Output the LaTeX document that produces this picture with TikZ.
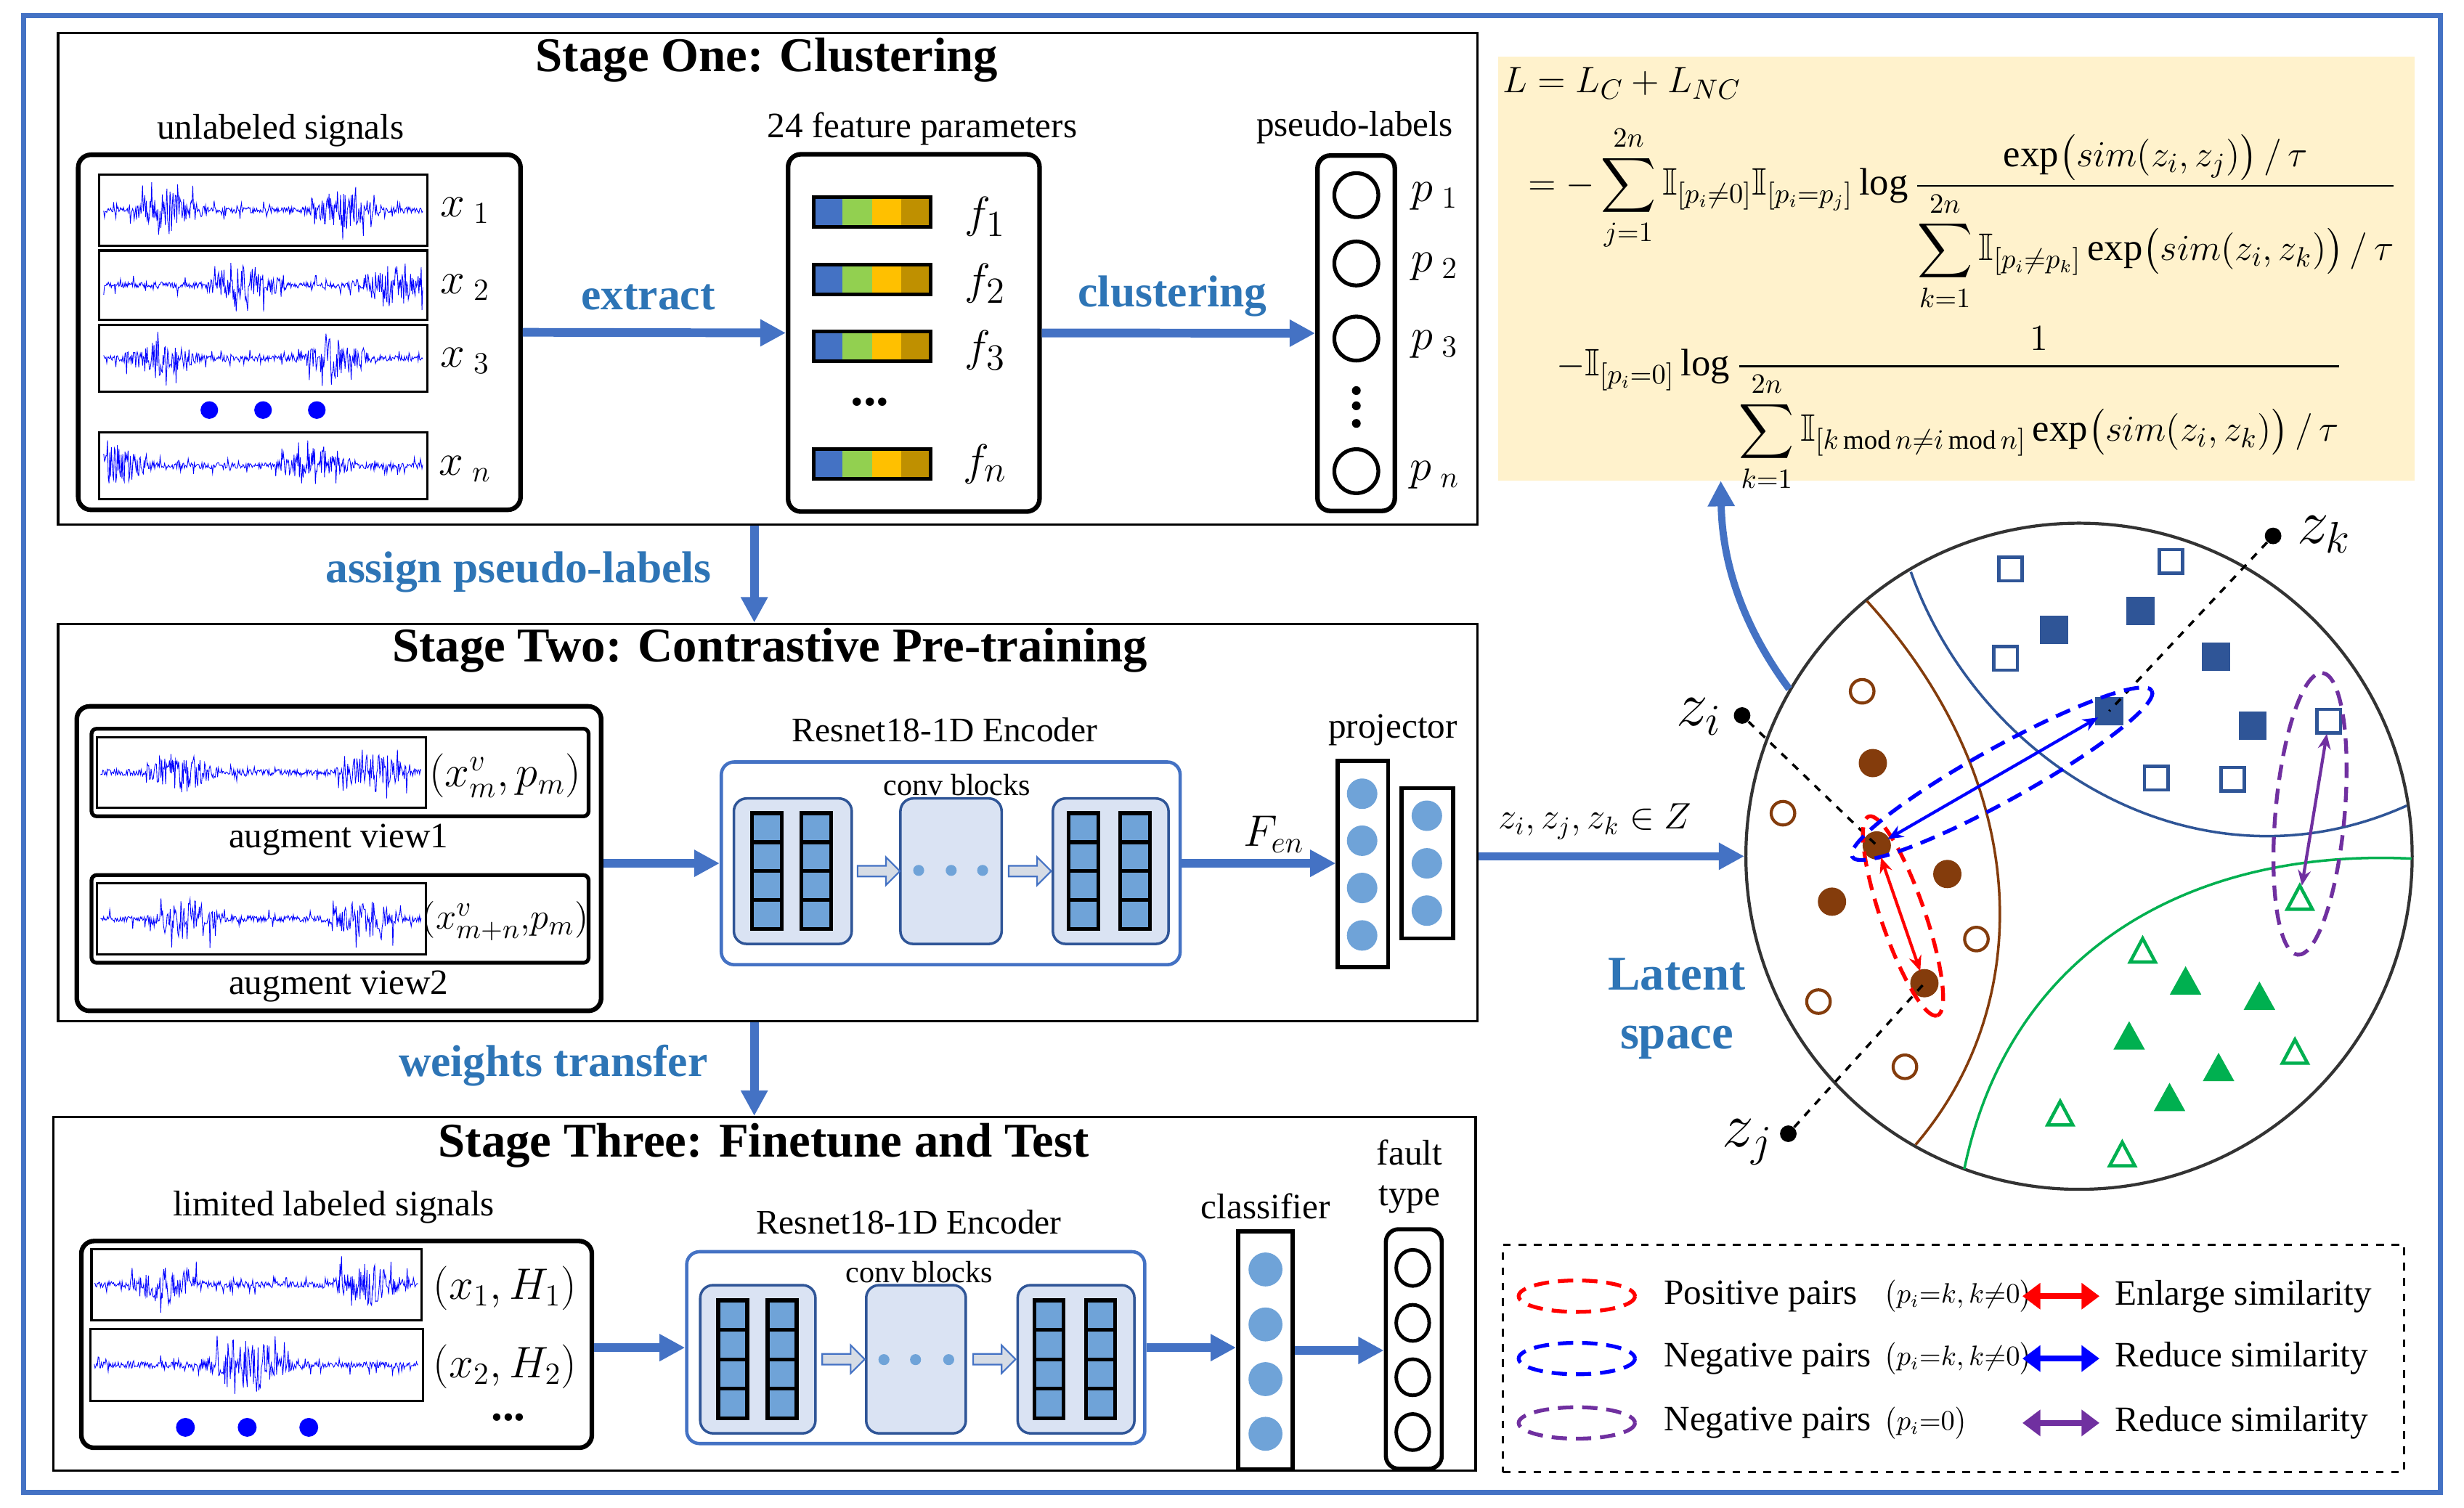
\documentclass[tikz,border=0pt]{standalone}
\usepackage{amsmath,amssymb}
\usepackage{fontspec}
\setmainfont{Liberation Serif}
\usetikzlibrary{arrows.meta,shapes.arrows,calc}

\definecolor{arrowblue}{HTML}{4472C4}
\definecolor{textblue}{HTML}{2E75B6}
\definecolor{navy}{HTML}{2F5597}
\definecolor{lightblock}{HTML}{DAE3F3}
\definecolor{cellblue}{HTML}{6FA3D8}
\definecolor{formulabg}{HTML}{FFF2CC}
\definecolor{brownc}{HTML}{843C0C}
\definecolor{greenc}{HTML}{00B050}
\definecolor{purplec}{HTML}{7030A0}
\definecolor{hollowfill}{HTML}{D6DCE5}
\definecolor{fb1}{HTML}{4472C4}
\definecolor{fb2}{HTML}{92D050}
\definecolor{fb3}{HTML}{FFC000}
\definecolor{fb4}{HTML}{BF9000}

\newcommand{\ulen}{0.02164cm}
% noisy signal: x0, x1, y, half height, burst 1, burst 2
\newcommand{\wave}[6]{%
  \draw[wave_style] plot[samples=420, domain=#1:#2, variable=\t]
    (\t, {#3 + #4*rand*min(0.95,(0.1 + 0.6*max(0,1-abs((\t-#1)/(#2-#1)-#5)/0.13)
      + 0.6*max(0,1-abs((\t-#1)/(#2-#1)-#6)/0.13))*(1+2.2*(rnd>0.86)))});}
\newcommand{\cells}[4]{%
  \foreach \r in {0,1,2,3} \draw[cell_style] (#1,#2+\r*#4) rectangle ++(#3,#4);}
\newcommand{\fbar}[2]{%
  \foreach \c [count=\i from 0] in {fb1,fb2,fb3,fb4} \fill[\c] (#1+\i*18.6,#2-9.5) rectangle ++(18.6,19);
  \draw[line width=1.4pt] (#1,#2-9.5) rectangle ++(74.4,19);}

\begin{document}
\begin{tikzpicture}[x=0.02164cm, y=-0.02164cm,
    stage_style/.style={draw=black, line width=0.9pt, inner sep=0},
    group_style/.style={draw=black, line width=1.8pt, rounded corners=5pt, inner sep=0},
    sig_style/.style={draw=black, line width=0.9pt, inner sep=0},
    inner_style/.style={draw=black, line width=1.5pt, rounded corners=2pt, inner sep=0},
    enc_style/.style={draw=arrowblue, line width=1.3pt, rounded corners=5pt, inner sep=0},
    block_style/.style={draw=navy, fill=lightblock, line width=1pt, rounded corners=5pt, inner sep=0},
    col_style/.style={draw=black, line width=1.6pt, inner sep=0},
    cell_style/.style={draw=black, fill=cellblue, line width=1.5pt},
    sz/.style 2 args={minimum width=#1*\ulen, minimum height=#2*\ulen},
    wave_style/.style={blue, line width=0.25pt},
    arrow_style/.style={draw=arrowblue, line width=3.4pt, -{Triangle[length=10pt,width=10pt]}},
    hollow_arrow/.style={single arrow, draw=arrowblue, fill=hollowfill, line width=0.6pt,
      minimum height=27*\ulen, single arrow head extend=3.4pt, inner sep=1.8pt},
    title_style/.style={font=\fontsize{19}{22}\selectfont\bfseries},
    lab_style/.style={font=\fontsize{14}{17}\selectfont},
    small_style/.style={font=\fontsize{12}{14}\selectfont},
    blue_style/.style={font=\fontsize{17.5}{21}\selectfont\bfseries, text=textblue},
    math_style/.style={font=\fontsize{17}{20}\selectfont},
    eq_style/.style={font=\fontsize{15}{18}\selectfont, anchor=base west, inner sep=0},
    dot_style/.style={circle, fill=black, inner sep=0, minimum size=6.5pt},
    pair_arrow/.style={line width=1.2pt, {Stealth[length=6pt,width=5pt]}-{Stealth[length=6pt,width=5pt]}, shorten <=5pt, shorten >=5pt},
    key_arrow/.style={line width=2.2pt, {Triangle[length=7pt,width=10pt]}-{Triangle[length=7pt,width=10pt]}},
    key_style/.style={font=\fontsize{14}{17}\selectfont, anchor=west, inner sep=1pt},
    cond_style/.style={font=\fontsize{10.5}{12}\selectfont, anchor=west, inner sep=0.5pt},
    ell_style/.style={line width=1.5pt, dash pattern=on 6pt off 3.5pt}]

\useasboundingbox (0,0) rectangle (1568,959.4);
\fill[white] (0,0) rectangle (1568,959.4);
\draw[arrowblue, line width=2pt] (15,10) rectangle (1553,950);

% stage one
\node[stage_style, sz={903}{313}] (st1) at (488.5,177.5) {};
\node[title_style] (t1) at (488,38) {Stage One: Clustering};
\node[lab_style] (l1) at (178.6,83) {unlabeled signals};
\node[group_style, sz={281.5}{226}] (grp1) at (190.5,211.5) {};
\node[sig_style, sz={209}{45}] (x1) at (167.5,133.8) {};
\node[sig_style, sz={209}{44}] (x2) at (167.5,181.4) {};
\node[sig_style, sz={209}{42.3}] (x3) at (167.5,228) {};
\node[sig_style, sz={209}{42.7}] (xn) at (167.5,296.4) {};
\pgfmathsetseed{7}
\wave{66}{269}{133.8}{20}{0.2}{0.75}
\wave{66}{269}{181.4}{20}{0.45}{0.9}
\wave{66}{269}{228}{19}{0.18}{0.72}
\wave{66}{269}{296.4}{19}{0.04}{0.66}
\node[math_style] (lx1) at (296,134) {$x_{\;1}$};
\node[math_style] (lx2) at (296,183) {$x_{\;2}$};
\node[math_style] (lx3) at (296,229.6) {$x_{\;3}$};
\node[math_style] (lxn) at (296,298.7) {$x_{\;n}$};
\foreach \a in {133.2,167.4,201.6} \fill[blue] (\a,261) circle (5.6);

\node[lab_style] (l2) at (586.9,82.2) {24 feature parameters};
\node[group_style, sz={160}{227.4}] (feat) at (581.5,211.9) {};
\fbar{517.6}{135.1}
\fbar{517.6}{178}
\fbar{517.6}{220.5}
\fbar{517.6}{295.2}
\node[math_style, font=\fontsize{19}{22}\selectfont] (f1) at (627,138) {$f_1$};
\node[math_style, font=\fontsize{19}{22}\selectfont] (f2) at (627,180.5) {$f_2$};
\node[math_style, font=\fontsize{19}{22}\selectfont] (f3) at (627,223) {$f_3$};
\node[math_style, font=\fontsize{19}{22}\selectfont] (fn) at (627,295.5) {$f_n$};
\node[font=\fontsize{20}{22}\selectfont\bfseries] (fd) at (553.6,256) {...};

\node[lab_style] (l3) at (862,81.3) {pseudo-labels};
\node[group_style, sz={49.2}{226.2}] (ps) at (863,212.1) {};
\foreach \b in {124.2,167.7,215.5,299.9} \draw[line width=1.5pt] (863.1,\b) circle (14);
\foreach \b in {248.6,258.3,269.5} \fill (863.1,\b) circle (2.8);
\node[math_style] (p1) at (913,124.7) {$p_{\;1}$};
\node[math_style] (p2) at (913,169.8) {$p_{\;2}$};
\node[math_style] (p3) at (913,219.4) {$p_{\;3}$};
\node[math_style] (pn) at (913,302.6) {$p_{\;n}$};

\draw[arrow_style] (grp1.east) -- (feat.west);
\node[blue_style] (e1) at (412.4,189.3) {extract};
\draw[arrow_style] (feat.east) -- (ps.west);
\node[blue_style] (e2) at (746.1,188.4) {clustering};

% stage two
\node[stage_style, sz={903}{253}] (st2) at (488.5,523.5) {};
\node[title_style] (t2) at (490,414) {Stage Two: Contrastive Pre-training};
\coordinate (va) at (480,0);
\draw[arrow_style] (st1.south -| va) -- (st2.north -| va);
\node[blue_style] (e3) at (330,364) {assign pseudo-labels};

\node[group_style, sz={333.7}{193.8}] (aug) at (215.7,546.5) {};
\node[inner_style, sz={316.3}{55.7}] (in1) at (216.4,491.7) {};
\node[sig_style, sz={209.3}{45}] (v1) at (166.2,491.6) {};
\node[inner_style, sz={316.3}{55.8}] (in2) at (216.4,584.9) {};
\node[sig_style, sz={209.3}{45.5}] (v2) at (166.2,584.8) {};
\wave{64}{268}{491.6}{20}{0.25}{0.85}
\wave{64}{268}{584.8}{20}{0.27}{0.82}
\node[math_style] (lv1) at (321.5,493.9) {$(x^{v}_{m},p_{m})$};
\node[math_style, font=\fontsize{15.5}{18}\selectfont] (lv2) at (321.5,586.4) {$(x^{v}_{m+n},\!p_{m})$};
\node[lab_style] (a1) at (215.4,534.3) {augment view1};
\node[lab_style] (a2) at (215.4,627.7) {augment view2};

\node[enc_style, sz={292}{129}] (enc) at (605,549.5) {};
\node[lab_style, font=\fontsize{13.5}{16}\selectfont] (r1) at (601.3,464.5) {Resnet18-1D Encoder};
\node[small_style] (cb1) at (609,499.4) {conv blocks};
\node[block_style, sz={75}{92.6}] (b1) at (504.5,554.5) {};
\node[block_style, sz={64.4}{92.6}] (b2) at (605.2,554.5) {};
\node[block_style, sz={73.6}{92.6}] (b3) at (706.8,554.5) {};
\cells{478.5}{517.6}{19}{18.4}
\cells{510}{517.6}{19}{18.4}
\cells{680}{517.6}{19}{18.4}
\cells{712.8}{517.6}{19}{18.4}
\foreach \a in {584.6,605.3,625.3} \fill[cellblue] (\a,554) circle (3.5);
\node[hollow_arrow] (h1) at ($(b1.east)!0.5!(b2.west)$) {};
\node[hollow_arrow] (h2) at ($(b2.east)!0.5!(b3.west)$) {};
\draw[arrow_style] (enc.west -| aug.east) -- (enc.west);

\node[col_style, sz={32}{131.3}] (pj1) at (867.3,549.9) {};
\node[col_style, sz={32.8}{95.6}] (pj2) at (908.2,549.5) {};
\foreach \b in {505.2,535.1,565.2,595.4} \fill[cellblue] (866.8,\b) circle (9.7);
\foreach \b in {519.2,549.5,579.6} \fill[cellblue] (908,\b) circle (9.7);
\node[lab_style] (pr) at (886.4,464.5) {projector};
\draw[arrow_style] (enc.east) -- (enc.east -| pj1.west);
\node[math_style] (fen) at (810.6,531) {$F_{en}$};

% stage three
\node[stage_style, sz={905}{225}] (st3) at (486.5,823.5) {};
\node[title_style] (t3) at (486,729) {Stage Three: Finetune and Test};
\draw[arrow_style] (st2.south -| va) -- (st3.north -| va);
\node[blue_style] (e4) at (352,678) {weights transfer};

\node[lab_style] (l4) at (212.4,768.3) {limited labeled signals};
\node[group_style, sz={324.9}{131.6}] (lim) at (214.2,855.7) {};
\node[sig_style, sz={210.2}{45.2}] (y1) at (163.3,817.6) {};
\node[sig_style, sz={211.4}{45.5}] (y2) at (163.3,868.8) {};
\wave{60}{266}{817.6}{20}{0.22}{0.85}
\wave{60}{266}{868.8}{20}{0.45}{0.5}
\node[math_style] (ly1) at (321.5,820) {$(x_{1},H_{1})$};
\node[math_style] (ly2) at (321.5,870) {$(x_{2},H_{2})$};
\foreach \a in {118,157.3,196.5} \fill[blue] (\a,908.5) circle (6);
\node[font=\fontsize{18}{20}\selectfont\bfseries] (yd) at (323.5,902) {...};

\node[enc_style, sz={291.5}{122.1}] (enc3) at (582.75,857.75) {};
\node[lab_style, font=\fontsize{13.5}{16}\selectfont] (r2) at (578.3,778) {Resnet18-1D Encoder};
\node[small_style] (cb2) at (584.9,809.6) {conv blocks};
\node[block_style, sz={73.3}{94.3}] (c1) at (482.25,865.15) {};
\node[block_style, sz={63.4}{94.3}] (c2) at (582.9,865.15) {};
\node[block_style, sz={74.3}{94.3}] (c3) at (684.75,865.15) {};
\cells{457}{827.7}{18.5}{18.75}
\cells{488.5}{827.7}{18.5}{18.75}
\cells{658.2}{827.7}{18.5}{18.75}
\cells{691.2}{827.7}{18.5}{18.75}
\foreach \a in {562.5,582.6,603.7} \fill[cellblue] (\a,865.4) circle (3.5);
\node[hollow_arrow] (h3) at ($(c1.east)!0.5!(c2.west)$) {};
\node[hollow_arrow] (h4) at ($(c2.east)!0.5!(c3.west)$) {};
\draw[arrow_style] (enc3.west -| lim.east) -- (enc3.west);

\node[col_style, sz={34.6}{151.5}] (cls) at (805.2,859.55) {};
\foreach \b in {808,843,877.8,912.6} \fill[cellblue] (805.3,\b) circle (10.8);
\node[lab_style] (cl) at (805.3,767.7) {classifier};
\node[group_style, line width=1.6pt, sz={35.6}{152.4}] (ft) at (899.7,858.6) {};
\foreach \b in {807,842,876.6,911.5} \draw[line width=1.4pt] (899,\b) ellipse (10.5 and 11.5);
\node[lab_style, align=center] (fl) at (897,749) {fault\\[-1pt]type};
\draw[arrow_style] (enc3.east) -- (enc3.east -| cls.west);
\draw[arrow_style] (cls.east) -- (cls.east -| ft.west);

% loss
\node[fill=formulabg, inner sep=0, sz={583.1}{269.7}] (fbox) at (1245,170.85) {};
\node[eq_style] (q1) at (956,59) {$L=L_{C}+L_{NC}$};
\node[eq_style] (q2) at (972,124) {$\displaystyle =-\sum_{j=1}^{2n}\mathbb{I}_{[p_i\neq 0]}\mathbb{I}_{[p_i=p_j]}\log
  \frac{\exp\bigl(sim(z_i,z_j)\bigr)\,/\,\tau}{\displaystyle\sum_{k=1}^{2n}\mathbb{I}_{[p_i\neq p_k]}\exp\bigl(sim(z_i,z_k)\bigr)\,/\,\tau}$};
\node[eq_style] (q3) at (990,239) {$\displaystyle -\mathbb{I}_{[p_i=0]}\log
  \frac{1}{\displaystyle\sum_{k=1}^{2n}\mathbb{I}_{[k\,\mathrm{mod}\,n\neq i\,\mathrm{mod}\,n]}\exp\bigl(sim(z_i,z_k)\bigr)\,/\,\tau}$};

% latent space
\node[circle, draw=black!80, line width=1.2pt, minimum size=424*\ulen, inner sep=0] (circ) at (1323,545) {};
\draw[brownc, line width=1pt] (1188,382.5) .. controls (1295,500) and (1295,640) .. (1219,728.6);
\draw[navy, line width=1pt] (1216,364) .. controls (1260,488) and (1400,572) .. (1531.5,512.8);
\draw[greenc, line width=1pt] (1250,744) .. controls (1280,600) and (1400,540) .. (1534.6,546.5);

\foreach \a/\b in {1185/440, 1134.6/517.6, 1257.7/597.7, 1157.2/637.5, 1212.2/679}
  \draw[brownc, line width=1.2pt] (\a,\b) circle (7.5);
\foreach \a/\b in {1191.8/485.7, 1194.3/538.1, 1239.2/556.3, 1165.8/573.9, 1224.6/625.8}
  \fill[brownc] (\a,\b) circle (9);
\foreach \a/\b in {1307.2/400.8, 1362/389, 1410/418.1, 1433.5/461.8, 1342.2/452.6}
  \fill[navy] (\a-9,\b-9) rectangle ++(18,18);
\foreach \a/\b in {1279.4/362.1, 1381.5/357.3, 1276.3/419, 1372.2/495.2, 1420.8/496, 1482/459}
  \draw[navy, line width=1.3pt] (\a-7.5,\b-7.5) rectangle ++(15,15);
\foreach \a/\b in {1390.8/625, 1437.8/634.7, 1354.9/660, 1411.8/680.1, 1380.6/699.2}
  \fill[greenc] (\a-10,\b+8) -- (\a+10,\b+8) -- (\a,\b-10) -- cycle;
\foreach \a/\b in {1463.5/571.7, 1363.5/605.3, 1460.4/669.7, 1311/709, 1350.5/735}
  \draw[greenc, line width=1.3pt] (\a-8,\b+7) -- (\a+8,\b+7) -- (\a,\b-8) -- cycle;

\coordinate (bi) at (1194.3,538.1);
\coordinate (bj) at (1224.6,625.8);
\coordinate (bk) at (1342.2,452.6);
\coordinate (pq) at (1482,459);
\coordinate (pt) at (1463.5,571.7);
\node[dot_style] (zi) at (1108.6,455.4) {};
\node[dot_style] (zj) at (1138,721.6) {};
\node[dot_style] (zk) at (1446.5,341.1) {};
\node[font=\fontsize{24}{28}\selectfont] (lzi) at (1081,456) {$z_i$};
\node[font=\fontsize{24}{28}\selectfont] (lzj) at (1112,727) {$z_j$};
\node[font=\fontsize{24}{28}\selectfont] (lzk) at (1479,340) {$z_k$};
\draw[dashed, line width=1pt] (zi) -- (bi);
\draw[dashed, line width=1pt] (zj) -- (bj);
\draw[dashed, line width=1pt] (zk) -- (bk);

\draw[red, ell_style, rotate around={-71:(1211,583)}] (1211,583) ellipse [x radius=67, y radius=14];
\draw[blue, ell_style, rotate around={29:(1274,492.5)}] (1274,492.5) ellipse [x radius=109, y radius=17];
\draw[purplec, ell_style, rotate around={85:(1470,518)}] (1470,518) ellipse [x radius=90, y radius=22];
\draw[red, pair_arrow] (bi) -- (bj);
\draw[blue, pair_arrow] (bi) -- (bk);
\draw[purplec, pair_arrow] (pq) -- (pt);

\draw[arrow_style, line width=3pt] (circ.west -| st2.east) -- (circ.west);
\node[font=\fontsize{14.5}{17}\selectfont] (zl) at (1015,523) {$z_i,z_j,z_k\in Z$};
\coordinate (ca) at (1095,0);
\draw[arrow_style, line width=2.8pt] (circ.150) .. controls (1110,400) and (1096,360) .. (fbox.south -| ca);
\node[font=\fontsize{19}{23}\selectfont\bfseries, text=textblue, align=center] (ls) at (1067,642) {Latent\\space};

% legend
\node[draw, dashed, line width=0.9pt, inner sep=0, sz={573.4}{144.7}] (lg) at (1243.1,864.65) {};
\draw[red, ell_style] (1003.4,825) ellipse [x radius=37, y radius=10];
\draw[blue, ell_style] (1003.4,864.7) ellipse [x radius=37, y radius=10];
\draw[purplec, ell_style] (1003.4,905.7) ellipse [x radius=37, y radius=10];
\node[key_style] (k1) at (1057,825) {Positive pairs};
\node[key_style] (k2) at (1057,864.7) {Negative pairs};
\node[key_style] (k3) at (1057,905.7) {Negative pairs};
\node[cond_style] (m1) at (1198,825) {$\bigl(p_i{=}k,k{\neq}0\bigr)$};
\node[cond_style] (m2) at (1198,864.7) {$\bigl(p_i{=}k,k{\neq}0\bigr)$};
\node[cond_style] (m3) at (1198,905.7) {$\bigl(p_i{=}0\bigr)$};
\coordinate (s1) at (1287,825);
\coordinate (s2) at (1287,864.7);
\coordinate (s3) at (1287,905.7);
\draw[red, key_arrow] (s1) -- ++(49,0);
\draw[blue, key_arrow] (s2) -- ++(49,0);
\draw[purplec, key_arrow] (s3) -- ++(49,0);
\node[key_style] (g1) at (1344,825) {Enlarge similarity};
\node[key_style] (g2) at (1344,864.7) {Reduce similarity};
\node[key_style] (g3) at (1344,905.7) {Reduce similarity};

\end{tikzpicture}
\end{document}
